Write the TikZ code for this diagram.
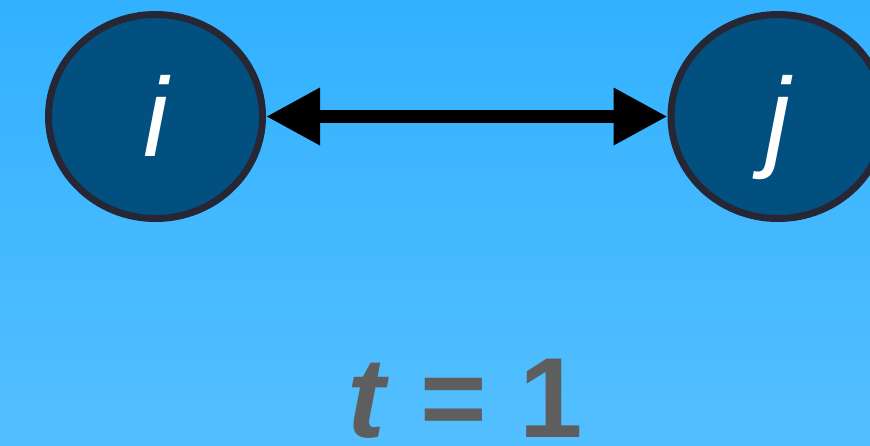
\documentclass[tikz,border=0pt]{standalone}
\usepackage{fontspec}
\setmainfont{Liberation Sans}
\usetikzlibrary{arrows.meta,shapes.geometric}
\definecolor{skytop}{RGB}{50,177,255}
\definecolor{skybottom}{RGB}{84,191,255}
\definecolor{nodeblue}{RGB}{2,80,127}
\definecolor{rimdark}{RGB}{38,38,52}
\definecolor{labelgray}{RGB}{94,94,94}
\begin{document}
\begin{tikzpicture}
  [x=0.5pt,y=-0.5pt,
   vertex/.style={ellipse,fill=nodeblue,draw=rimdark,line width=3.5pt,
     minimum width=107pt,minimum height=102pt,inner sep=0pt,text=white,
     font=\fontsize{56}{56}\selectfont\itshape,text height=40pt,text depth=0pt},
   link/.style={{Triangle[length=27pt,width=27pt]}-{Triangle[length=27pt,width=27pt]},line width=6.5pt}]
  \shade[top color=skytop,bottom color=skybottom] (0,0) rectangle (870,445);
  \useasboundingbox (0,0) rectangle (870,445);

  \node[vertex] (i) at (155.5,116.5) {i};
  \node[vertex] (j) at (778,116.5) {j};

  \draw[link] (i) -- (j);

  % time step below the pair
  \node[text=labelgray,font=\fontsize{57}{57}\selectfont\bfseries,anchor=base] (tlabel) at (465,437) {\textit{t} = 1};

\end{tikzpicture}
\end{document}
